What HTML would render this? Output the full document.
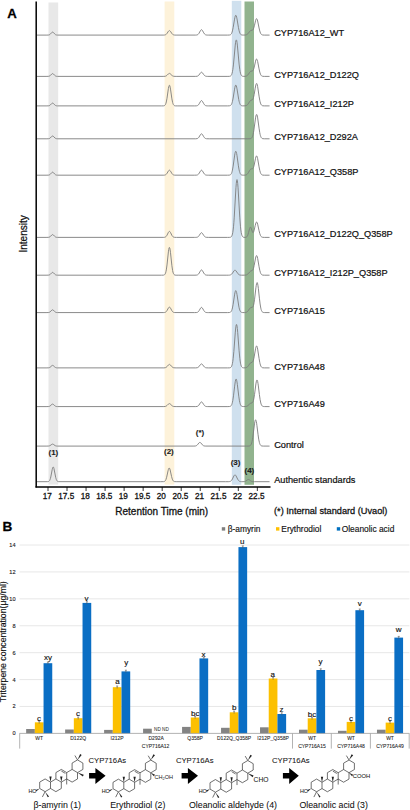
<!DOCTYPE html>
<html><head><meta charset="utf-8"><style>
html,body{margin:0;padding:0;background:#fff;}
body{width:410px;height:810px;overflow:hidden;}
svg{display:block;font-family:"Liberation Sans", sans-serif;}
</style></head><body>
<svg width="410" height="810" viewBox="0 0 410 810">
<rect width="410" height="810" fill="#fff"/>
<rect x="48.5" y="2.5" width="9.70" height="482.10" fill="#e8e8e8"/>
<rect x="164.6" y="1.5" width="9.70" height="483.10" fill="#fdf2da"/>
<rect x="231.8" y="0.8" width="9.50" height="484.00" fill="#cfe0ee"/>
<rect x="244.5" y="1.5" width="9.50" height="483.30" fill="#91b38e"/>
<polyline points="36.80,35.10 46.95,35.10 48.70,35.00 49.40,34.79 50.10,34.35 51.85,32.45 52.20,32.20 52.55,32.10 52.90,32.16 53.25,32.37 54.65,33.92 55.35,34.54 55.70,34.75 56.40,34.98 57.45,35.08 163.85,35.08 164.55,35.02 165.25,34.87 165.95,34.53 166.30,34.25 167.00,33.44 168.40,31.31 168.75,30.92 169.10,30.67 169.45,30.60 169.80,30.72 170.15,31.02 170.50,31.45 171.90,33.57 172.60,34.33 173.30,34.78 174.00,34.98 174.70,35.07 176.10,35.10 195.70,35.08 196.40,35.04 197.10,34.91 197.80,34.59 198.15,34.33 198.85,33.50 200.60,30.41 200.95,29.98 201.30,29.74 201.65,29.72 202.00,29.93 202.35,30.33 203.75,32.85 204.45,33.90 205.15,34.56 205.50,34.76 206.20,34.98 207.25,35.08 208.65,35.10 227.55,35.10 229.30,35.04 230.00,34.91 230.35,34.78 230.70,34.56 231.05,34.23 231.40,33.74 231.75,33.06 232.10,32.13 232.45,30.92 233.15,27.61 234.55,19.15 234.90,17.40 235.25,16.11 235.60,15.41 235.95,15.36 236.30,15.97 236.65,17.19 237.00,18.88 238.40,27.34 239.10,30.72 239.45,31.97 239.80,32.94 240.15,33.66 240.50,34.17 240.85,34.52 241.20,34.75 241.55,34.90 242.25,35.04 243.65,35.09 245.40,35.01 246.45,34.76 247.15,34.39 247.85,33.80 248.55,32.97 249.60,31.56 250.30,30.80 250.65,30.55 251.00,30.39 252.05,30.25 252.40,30.15 252.75,29.93 253.10,29.50 253.45,28.83 253.80,27.87 254.50,25.22 255.55,20.68 255.90,19.55 256.25,18.83 256.60,18.61 256.95,18.92 257.30,19.74 257.65,21.00 259.05,27.96 259.75,30.95 260.45,32.99 260.80,33.68 261.15,34.17 261.50,34.51 261.85,34.74 262.20,34.89 262.90,35.03 264.30,35.10 269.55,35.10" fill="none" stroke="#7d7d7d" stroke-width="0.9" stroke-linejoin="round"/>
<polyline points="36.80,76.40 46.95,76.40 48.70,76.30 49.40,76.11 50.10,75.70 51.85,73.93 52.20,73.70 52.55,73.60 52.90,73.66 53.25,73.85 54.65,75.30 55.35,75.88 55.70,76.07 56.40,76.29 57.45,76.38 163.85,76.39 165.25,76.25 165.95,76.02 166.30,75.83 167.00,75.29 168.40,73.88 168.75,73.61 169.10,73.45 169.45,73.40 169.80,73.48 170.15,73.68 171.90,75.38 172.60,75.89 173.30,76.18 174.00,76.32 176.10,76.40 195.70,76.39 197.10,76.25 197.80,76.01 198.15,75.80 198.85,75.15 200.60,72.75 200.95,72.41 201.30,72.23 201.65,72.22 202.00,72.38 202.35,72.69 203.75,74.65 204.45,75.47 205.15,75.98 205.50,76.14 206.20,76.31 207.25,76.39 209.00,76.40 227.90,76.40 229.65,76.32 230.35,76.13 230.70,75.93 231.05,75.60 231.40,75.09 231.75,74.33 232.10,73.23 232.45,71.72 232.80,69.71 233.15,67.16 233.50,64.08 235.25,45.07 235.60,42.29 235.95,40.51 236.30,39.90 236.65,40.51 237.00,42.29 237.35,45.07 239.10,64.08 239.80,69.71 240.15,71.72 240.50,73.23 240.85,74.33 241.20,75.09 241.55,75.60 241.90,75.93 242.25,76.13 242.60,76.25 243.30,76.36 245.05,76.34 245.75,76.24 246.45,76.02 247.15,75.62 247.85,74.95 248.55,74.04 249.60,72.47 250.30,71.63 250.65,71.35 251.00,71.18 252.40,70.98 252.75,70.77 253.10,70.35 253.45,69.66 253.80,68.68 254.50,65.93 255.55,61.17 255.90,59.99 256.25,59.23 256.60,59.00 256.95,59.33 257.30,60.20 257.65,61.53 259.05,68.87 259.75,72.02 260.45,74.18 260.80,74.90 261.15,75.42 261.50,75.78 261.85,76.02 262.20,76.18 262.90,76.33 264.30,76.40 269.55,76.40" fill="none" stroke="#7d7d7d" stroke-width="0.9" stroke-linejoin="round"/>
<polyline points="36.80,105.90 46.95,105.90 48.70,105.80 49.40,105.61 50.10,105.20 51.85,103.43 52.20,103.20 52.55,103.10 52.90,103.16 53.25,103.35 54.65,104.80 55.35,105.38 55.70,105.57 56.40,105.79 57.45,105.88 161.40,105.90 163.15,105.88 163.85,105.80 164.55,105.55 164.90,105.28 165.25,104.85 165.60,104.20 165.95,103.26 166.30,101.97 167.00,98.26 168.40,88.49 168.75,86.66 169.10,85.52 169.45,85.21 169.80,85.77 170.15,87.12 170.50,89.11 171.90,98.88 172.60,102.38 172.95,103.56 173.30,104.41 173.65,104.99 174.00,105.37 174.35,105.60 174.70,105.74 175.40,105.86 177.15,105.90 194.65,105.90 196.05,105.87 196.75,105.79 197.45,105.59 197.80,105.40 198.50,104.78 199.20,103.78 200.60,101.29 200.95,100.87 201.30,100.64 201.65,100.62 202.00,100.82 202.35,101.22 203.75,103.69 204.45,104.72 205.15,105.37 205.50,105.57 206.20,105.78 207.25,105.88 208.65,105.90 227.55,105.90 229.30,105.84 230.00,105.70 230.35,105.56 230.70,105.33 231.05,104.99 231.40,104.48 231.75,103.76 232.10,102.78 232.45,101.50 233.15,98.04 234.55,89.15 234.90,87.31 235.25,85.95 235.60,85.21 235.95,85.16 236.30,85.81 236.65,87.08 237.00,88.86 238.75,99.67 239.10,101.30 239.45,102.61 239.80,103.63 240.15,104.39 240.50,104.92 240.85,105.29 241.55,105.69 242.25,105.83 242.95,105.88 245.05,105.84 246.10,105.63 246.80,105.30 247.15,105.05 247.50,104.73 248.20,103.87 249.60,101.65 250.30,100.73 250.65,100.42 251.00,100.21 252.05,99.92 252.40,99.73 252.75,99.34 253.10,98.68 253.45,97.68 254.15,94.58 255.20,88.23 255.90,84.70 256.25,83.70 256.60,83.39 256.95,83.81 257.30,84.93 257.65,86.65 259.05,96.14 259.75,100.23 260.10,101.79 260.45,103.02 260.80,103.95 261.15,104.63 261.50,105.09 261.85,105.41 262.20,105.61 262.90,105.81 264.30,105.89 269.55,105.90" fill="none" stroke="#7d7d7d" stroke-width="0.9" stroke-linejoin="round"/>
<polyline points="36.80,138.80 46.95,138.80 48.70,138.70 49.40,138.51 50.10,138.10 51.85,136.33 52.20,136.10 52.55,136.00 52.90,136.06 53.25,136.25 55.00,138.02 55.70,138.47 56.40,138.69 57.80,138.79 195.70,138.79 197.10,138.62 197.80,138.33 198.15,138.08 198.85,137.32 200.60,134.45 200.95,134.05 201.30,133.83 201.65,133.82 202.00,134.01 202.35,134.39 203.75,136.72 204.45,137.69 204.80,138.04 205.50,138.49 206.55,138.74 209.70,138.80 247.85,138.80 249.95,138.75 250.65,138.62 251.00,138.48 251.35,138.26 251.70,137.92 252.05,137.41 252.40,136.68 252.75,135.67 253.10,134.33 253.45,132.63 253.80,130.56 255.55,117.86 255.90,116.00 256.25,114.81 256.60,114.40 256.95,114.81 257.30,116.00 257.65,117.86 259.05,128.17 259.75,132.63 260.10,134.33 260.45,135.67 260.80,136.68 261.15,137.41 261.50,137.92 261.85,138.26 262.20,138.48 262.90,138.70 264.30,138.79 269.55,138.80" fill="none" stroke="#7d7d7d" stroke-width="0.9" stroke-linejoin="round"/>
<polyline points="36.80,175.20 46.95,175.20 48.70,175.10 49.40,174.89 50.10,174.45 51.85,172.55 52.20,172.30 52.55,172.20 52.90,172.26 53.25,172.47 54.65,174.02 55.35,174.64 55.70,174.85 56.40,175.08 57.45,175.18 163.85,175.18 164.55,175.11 165.25,174.95 165.95,174.56 166.30,174.25 167.00,173.35 168.40,170.99 168.75,170.55 169.10,170.28 169.45,170.20 169.80,170.34 170.15,170.66 170.50,171.14 171.90,173.50 172.60,174.35 172.95,174.63 173.65,174.98 174.70,175.16 194.65,175.20 196.75,175.10 197.45,174.91 197.80,174.73 198.50,174.15 199.20,173.20 200.60,170.85 200.95,170.45 201.30,170.23 201.65,170.22 202.00,170.41 202.35,170.79 203.75,173.12 204.45,174.09 205.15,174.70 205.50,174.89 206.20,175.09 207.25,175.18 208.65,175.20 227.55,175.20 229.30,175.13 230.00,174.97 230.35,174.81 230.70,174.55 231.05,174.15 231.40,173.56 231.75,172.74 232.10,171.61 232.45,170.15 233.15,166.16 234.55,155.95 234.90,153.84 235.25,152.28 235.60,151.43 235.95,151.37 236.30,152.11 236.65,153.58 237.00,155.62 238.40,165.83 239.10,169.91 239.45,171.42 239.80,172.59 240.15,173.46 240.50,174.08 240.85,174.50 241.20,174.78 241.55,174.95 242.25,175.12 243.65,175.19 245.40,175.08 246.10,174.90 246.45,174.75 247.15,174.26 247.85,173.46 248.55,172.36 249.60,170.48 250.30,169.48 250.65,169.15 251.00,168.95 251.35,168.87 252.40,168.84 252.75,168.64 253.10,168.22 253.45,167.51 253.80,166.47 254.15,165.10 255.55,158.27 255.90,156.96 256.25,156.13 256.60,155.88 256.95,156.25 257.30,157.22 257.65,158.70 259.05,166.84 259.75,170.34 260.45,172.74 260.80,173.53 261.15,174.11 261.50,174.51 261.85,174.78 262.20,174.95 262.90,175.12 264.30,175.19 269.55,175.20" fill="none" stroke="#7d7d7d" stroke-width="0.9" stroke-linejoin="round"/>
<polyline points="36.80,237.40 46.95,237.40 48.70,237.30 49.40,237.11 50.10,236.70 51.85,234.93 52.20,234.70 52.55,234.60 52.90,234.66 53.25,234.85 54.65,236.30 55.35,236.88 55.70,237.07 56.40,237.29 57.45,237.38 163.85,237.37 164.55,237.30 165.25,237.10 165.95,236.63 166.30,236.26 167.00,235.19 168.40,232.35 168.75,231.82 169.10,231.49 169.45,231.40 169.80,231.56 170.15,231.96 170.50,232.53 171.90,235.37 172.60,236.38 172.95,236.72 173.65,237.14 174.70,237.35 176.45,237.40 194.30,237.40 195.70,237.39 196.75,237.31 197.45,237.12 197.80,236.96 198.50,236.41 199.20,235.52 200.60,233.31 200.95,232.94 201.30,232.73 201.65,232.72 202.00,232.90 202.35,233.25 203.75,235.44 204.45,236.36 205.15,236.93 205.50,237.10 206.20,237.30 208.30,237.40 227.55,237.40 229.30,237.38 230.35,237.27 231.05,236.97 231.40,236.65 231.75,236.13 232.10,235.32 232.45,234.11 232.80,232.38 233.15,229.98 233.50,226.81 233.85,222.78 234.20,217.89 235.95,187.79 236.30,183.39 236.65,180.57 237.00,179.60 237.35,180.57 237.70,183.39 238.05,187.79 239.80,217.89 240.50,226.81 240.85,229.98 241.20,232.38 241.55,234.11 241.90,235.32 242.25,236.13 242.60,236.65 242.95,236.97 243.30,237.16 244.00,237.33 245.05,237.38 245.75,237.32 246.45,237.08 246.80,236.83 247.15,236.42 247.50,235.83 247.85,235.00 248.55,232.63 249.60,228.53 249.95,227.62 250.30,227.16 250.65,227.23 251.00,227.78 252.40,231.87 252.75,232.43 253.10,232.56 253.45,232.21 253.80,231.42 254.15,230.25 255.20,225.60 255.90,223.00 256.25,222.25 256.60,222.00 256.95,222.26 257.30,223.01 257.65,224.18 259.05,230.69 259.75,233.50 260.45,235.42 260.80,236.06 261.15,236.52 261.50,236.85 261.85,237.06 262.20,237.20 262.90,237.34 264.30,237.40 269.55,237.40" fill="none" stroke="#7d7d7d" stroke-width="0.9" stroke-linejoin="round"/>
<polyline points="36.80,275.20 46.95,275.20 48.70,275.10 49.40,274.91 50.10,274.50 51.85,272.73 52.20,272.50 52.55,272.40 52.90,272.46 53.25,272.65 54.65,274.10 55.35,274.68 55.70,274.87 56.40,275.09 57.45,275.18 161.40,275.20 163.15,275.17 163.85,275.07 164.20,274.94 164.55,274.73 164.90,274.36 165.25,273.79 165.60,272.91 165.95,271.65 166.30,269.93 167.00,264.94 168.40,251.82 168.75,249.36 169.10,247.83 169.45,247.41 169.80,248.16 170.15,249.98 170.50,252.65 171.90,265.77 172.60,270.47 172.95,272.06 173.30,273.20 173.65,273.98 174.00,274.49 174.35,274.80 175.05,275.09 176.10,275.19 178.20,275.20 195.00,275.20 196.75,275.09 197.45,274.89 197.80,274.70 198.50,274.08 199.20,273.08 200.60,270.59 200.95,270.17 201.30,269.94 201.65,269.92 202.00,270.12 202.35,270.52 203.75,272.99 204.45,274.02 204.80,274.39 205.50,274.87 205.85,275.00 206.55,275.14 208.30,275.20 226.85,275.20 228.60,275.18 229.65,275.11 230.70,274.81 231.40,274.37 231.75,274.04 232.45,273.17 233.85,271.04 234.20,270.62 234.55,270.34 234.90,270.21 235.25,270.24 235.60,270.44 235.95,270.79 238.05,273.82 238.75,274.49 239.45,274.88 240.15,275.07 241.55,275.19 244.70,275.17 246.10,275.00 246.80,274.76 247.15,274.57 247.85,274.04 248.55,273.31 249.60,272.05 250.30,271.36 251.00,270.95 252.05,270.60 252.40,270.37 252.75,269.96 253.10,269.30 253.45,268.35 253.80,267.08 254.15,265.51 255.55,258.07 255.90,256.69 256.25,255.80 256.60,255.52 256.95,255.88 257.30,256.86 257.65,258.36 259.05,266.66 259.75,270.24 260.45,272.68 260.80,273.50 261.15,274.09 261.50,274.50 261.85,274.77 262.20,274.95 262.90,275.12 264.30,275.19 269.55,275.20" fill="none" stroke="#7d7d7d" stroke-width="0.9" stroke-linejoin="round"/>
<polyline points="36.80,312.60 46.95,312.60 48.70,312.50 49.40,312.31 50.10,311.90 51.85,310.13 52.20,309.90 52.55,309.80 52.90,309.86 53.25,310.05 54.65,311.50 55.35,312.08 55.70,312.27 56.40,312.49 57.45,312.58 163.85,312.57 164.55,312.51 165.25,312.32 165.95,311.90 166.30,311.56 167.00,310.57 168.40,307.97 168.75,307.49 169.10,307.18 169.45,307.10 169.80,307.25 170.15,307.61 170.50,308.14 171.90,310.73 172.60,311.66 172.95,311.98 173.65,312.36 174.70,312.56 194.65,312.60 196.75,312.50 197.45,312.30 197.80,312.11 198.50,311.50 199.20,310.52 200.60,308.08 200.95,307.67 201.30,307.44 201.65,307.42 202.00,307.62 202.35,308.01 203.75,310.43 204.45,311.45 205.15,312.08 205.50,312.27 206.20,312.49 207.25,312.58 208.65,312.60 227.55,312.60 229.30,312.54 230.00,312.39 230.35,312.24 230.70,312.00 231.05,311.63 231.40,311.09 231.75,310.33 232.10,309.30 232.45,307.95 233.15,304.28 234.55,294.88 234.90,292.93 235.25,291.50 235.60,290.72 235.95,290.67 236.30,291.35 236.65,292.69 237.00,294.58 238.75,306.01 239.10,307.73 239.45,309.12 239.80,310.20 240.15,311.00 240.50,311.57 240.85,311.96 241.20,312.21 241.55,312.37 242.25,312.53 242.95,312.58 244.35,312.58 245.40,312.50 246.45,312.22 247.15,311.82 247.50,311.52 248.20,310.72 249.60,308.67 250.30,307.85 250.65,307.58 251.00,307.43 252.05,307.37 252.40,307.28 252.75,307.01 253.10,306.45 253.45,305.50 253.80,304.08 254.15,302.17 254.50,299.76 255.90,287.78 256.25,285.30 256.60,283.52 256.95,282.63 257.30,282.73 257.65,283.81 258.00,285.77 258.35,288.43 259.40,298.18 260.10,303.97 260.80,308.10 261.15,309.51 261.50,310.55 261.85,311.28 262.20,311.78 262.55,312.11 263.25,312.44 264.65,312.59 269.55,312.60" fill="none" stroke="#7d7d7d" stroke-width="0.9" stroke-linejoin="round"/>
<polyline points="36.80,367.90 46.95,367.90 48.70,367.81 49.40,367.64 50.10,367.28 51.85,365.69 52.20,365.49 52.55,365.40 52.90,365.45 53.25,365.62 54.65,366.92 55.35,367.43 55.70,367.60 56.40,367.80 57.45,367.89 163.85,367.88 165.25,367.72 165.95,367.45 166.30,367.24 167.00,366.61 168.40,364.96 168.75,364.65 169.10,364.45 169.45,364.40 169.80,364.50 170.15,364.72 170.50,365.06 171.90,366.71 172.60,367.30 173.30,367.65 174.00,367.81 176.10,367.90 195.70,367.89 197.10,367.76 197.80,367.53 198.15,367.33 198.85,366.71 200.60,364.42 200.95,364.10 201.30,363.93 201.65,363.92 202.00,364.07 202.35,364.37 203.75,366.23 204.45,367.01 205.15,367.50 205.50,367.65 206.20,367.81 208.30,367.90 227.55,367.90 229.30,367.87 230.00,367.77 230.70,367.49 231.05,367.19 231.40,366.71 231.75,365.99 232.10,364.92 232.45,363.41 232.80,361.37 233.15,358.71 233.85,351.45 235.25,332.86 235.60,329.02 235.95,326.18 236.30,324.64 236.65,324.54 237.00,325.88 237.35,328.54 237.70,332.27 239.10,350.84 239.80,358.27 240.15,361.03 240.50,363.16 240.85,364.74 241.20,365.86 241.55,366.63 241.90,367.13 242.25,367.45 242.60,367.65 242.95,367.76 243.65,367.86 245.40,367.80 246.10,367.65 246.80,367.35 247.50,366.82 247.85,366.45 248.55,365.54 249.60,363.96 250.30,363.11 251.00,362.62 252.05,362.30 252.40,362.08 252.75,361.68 253.10,361.00 253.45,360.00 253.80,358.63 254.15,356.92 255.55,348.73 255.90,347.19 256.25,346.21 256.60,345.90 256.95,346.31 257.30,347.40 257.65,349.08 259.05,358.36 259.75,362.36 260.10,363.89 260.45,365.09 260.80,366.00 261.15,366.66 261.50,367.11 261.85,367.42 262.20,367.62 262.90,367.81 264.30,367.89 269.55,367.90" fill="none" stroke="#7d7d7d" stroke-width="0.9" stroke-linejoin="round"/>
<polyline points="36.80,406.60 46.95,406.60 48.70,406.51 49.40,406.34 50.10,405.98 51.85,404.39 52.20,404.19 52.55,404.10 52.90,404.15 53.25,404.32 54.65,405.62 55.35,406.13 55.70,406.30 56.40,406.50 57.45,406.59 163.85,406.59 165.25,406.45 165.95,406.22 166.30,406.03 167.00,405.49 168.40,404.08 168.75,403.81 169.10,403.65 169.45,403.60 169.80,403.68 170.15,403.88 171.90,405.58 172.60,406.09 173.30,406.38 174.00,406.52 176.10,406.60 195.70,406.59 197.10,406.44 197.80,406.16 198.15,405.93 198.85,405.21 200.60,402.51 200.95,402.14 201.30,401.93 201.65,401.92 202.00,402.10 202.35,402.45 203.75,404.64 204.45,405.56 205.15,406.13 205.50,406.30 206.20,406.50 207.25,406.58 209.00,406.60 227.90,406.60 229.65,406.51 230.35,406.32 230.70,406.12 231.05,405.80 231.40,405.31 231.75,404.60 232.10,403.60 232.45,402.26 232.80,400.51 233.50,395.82 234.55,386.88 235.25,381.72 235.60,380.04 235.95,379.19 236.30,379.25 236.65,380.23 237.00,382.02 237.35,384.45 238.75,396.20 239.45,400.79 239.80,402.47 240.15,403.76 240.50,404.72 240.85,405.39 241.20,405.85 241.55,406.15 242.25,406.45 243.65,406.59 245.40,406.53 246.10,406.44 246.80,406.24 247.85,405.65 249.60,404.00 250.30,403.44 251.00,403.12 252.05,402.83 252.40,402.60 252.75,402.17 253.10,401.46 253.45,400.40 253.80,398.92 254.50,394.69 255.90,383.94 256.25,381.89 256.60,380.52 256.95,379.97 257.30,380.31 257.65,381.50 258.00,383.43 258.35,385.93 259.40,394.62 260.10,399.57 260.80,403.00 261.15,404.15 261.50,404.99 261.85,405.58 262.20,405.97 262.55,406.23 263.25,406.48 264.65,406.59 269.55,406.60" fill="none" stroke="#7d7d7d" stroke-width="0.9" stroke-linejoin="round"/>
<polyline points="36.80,446.10 46.95,446.10 48.70,446.03 49.40,445.89 50.10,445.60 51.85,444.34 52.20,444.17 52.55,444.10 52.90,444.14 53.25,444.28 55.00,445.54 55.70,445.86 56.40,446.02 57.80,446.10 193.95,446.09 195.35,446.00 196.05,445.82 196.40,445.66 197.10,445.15 197.45,444.79 198.85,443.04 199.20,442.70 199.55,442.48 199.90,442.40 200.25,442.48 200.60,442.70 200.95,443.04 202.35,444.79 203.05,445.44 203.40,445.66 204.10,445.93 205.15,446.07 246.45,446.10 248.90,446.05 249.60,445.92 249.95,445.78 250.30,445.56 250.65,445.22 251.00,444.70 251.35,443.94 251.70,442.90 252.05,441.51 252.40,439.73 252.75,437.56 254.50,423.86 254.85,421.77 255.20,420.38 255.55,419.81 255.90,420.13 256.25,421.29 256.60,423.20 256.95,425.67 258.00,434.26 258.70,439.15 259.40,442.54 259.75,443.68 260.10,444.51 260.45,445.09 260.80,445.48 261.15,445.73 261.85,445.98 263.25,446.09 269.55,446.10" fill="none" stroke="#7d7d7d" stroke-width="0.9" stroke-linejoin="round"/>
<polyline points="36.80,481.70 47.30,481.68 48.35,481.55 48.70,481.42 49.05,481.19 49.40,480.82 49.75,480.26 50.10,479.45 50.45,478.34 50.80,476.93 52.20,469.61 52.55,468.16 52.90,467.26 53.25,467.01 53.60,467.45 53.95,468.53 55.70,477.36 56.05,478.69 56.40,479.71 56.75,480.45 57.10,480.95 57.45,481.27 58.15,481.58 58.85,481.67 160.70,481.70 163.50,481.65 164.20,481.52 164.90,481.14 165.25,480.78 165.60,480.24 165.95,479.50 166.65,477.25 168.05,470.80 168.40,469.44 168.75,468.47 169.10,468.02 169.45,468.15 169.80,468.83 170.15,469.98 171.55,476.43 172.25,478.96 172.60,479.85 172.95,480.50 173.30,480.95 173.65,481.25 174.00,481.45 174.70,481.63 176.80,481.70 225.45,481.70 228.25,481.69 229.30,481.62 230.35,481.36 231.05,480.92 231.40,480.57 231.75,480.13 232.45,478.94 233.85,476.04 234.20,475.48 234.55,475.09 234.90,474.91 235.25,474.96 235.60,475.23 235.95,475.70 237.70,479.22 238.40,480.33 238.75,480.73 239.45,481.26 239.80,481.42 240.50,481.60 241.55,481.68 242.95,481.69 244.00,481.65 244.70,481.55 245.40,481.32 245.75,481.14 247.50,479.82 247.85,479.63 248.20,479.52 248.55,479.51 248.90,479.60 249.25,479.79 250.65,480.88 251.35,481.30 252.05,481.54 252.75,481.65 254.50,481.70 269.55,481.70" fill="none" stroke="#7d7d7d" stroke-width="0.9" stroke-linejoin="round"/>
<line x1="36.2" y1="1.5" x2="36.2" y2="487.6" stroke="#000" stroke-width="1.5"/>
<line x1="35.5" y1="486.9" x2="270.5" y2="486.9" stroke="#000" stroke-width="1.5"/>
<line x1="48.00" y1="487" x2="48.00" y2="491" stroke="#000" stroke-width="0.8"/>
<text x="47.20" y="499.34" font-size="8.2" text-anchor="middle" font-weight="normal" fill="#111" stroke="#111" stroke-width="0.28" >17</text>
<line x1="67.03" y1="487" x2="67.03" y2="491" stroke="#000" stroke-width="0.8"/>
<text x="66.23" y="499.34" font-size="8.2" text-anchor="middle" font-weight="normal" fill="#111" stroke="#111" stroke-width="0.28" >17.5</text>
<line x1="86.06" y1="487" x2="86.06" y2="491" stroke="#000" stroke-width="0.8"/>
<text x="85.26" y="499.34" font-size="8.2" text-anchor="middle" font-weight="normal" fill="#111" stroke="#111" stroke-width="0.28" >18</text>
<line x1="105.09" y1="487" x2="105.09" y2="491" stroke="#000" stroke-width="0.8"/>
<text x="104.29" y="499.34" font-size="8.2" text-anchor="middle" font-weight="normal" fill="#111" stroke="#111" stroke-width="0.28" >18.5</text>
<line x1="124.12" y1="487" x2="124.12" y2="491" stroke="#000" stroke-width="0.8"/>
<text x="123.32" y="499.34" font-size="8.2" text-anchor="middle" font-weight="normal" fill="#111" stroke="#111" stroke-width="0.28" >19</text>
<line x1="143.15" y1="487" x2="143.15" y2="491" stroke="#000" stroke-width="0.8"/>
<text x="142.35" y="499.34" font-size="8.2" text-anchor="middle" font-weight="normal" fill="#111" stroke="#111" stroke-width="0.28" >19.5</text>
<line x1="162.18" y1="487" x2="162.18" y2="491" stroke="#000" stroke-width="0.8"/>
<text x="161.38" y="499.34" font-size="8.2" text-anchor="middle" font-weight="normal" fill="#111" stroke="#111" stroke-width="0.28" >20</text>
<line x1="181.21" y1="487" x2="181.21" y2="491" stroke="#000" stroke-width="0.8"/>
<text x="180.41" y="499.34" font-size="8.2" text-anchor="middle" font-weight="normal" fill="#111" stroke="#111" stroke-width="0.28" >20.5</text>
<line x1="200.24" y1="487" x2="200.24" y2="491" stroke="#000" stroke-width="0.8"/>
<text x="199.44" y="499.34" font-size="8.2" text-anchor="middle" font-weight="normal" fill="#111" stroke="#111" stroke-width="0.28" >21</text>
<line x1="219.27" y1="487" x2="219.27" y2="491" stroke="#000" stroke-width="0.8"/>
<text x="218.47" y="499.34" font-size="8.2" text-anchor="middle" font-weight="normal" fill="#111" stroke="#111" stroke-width="0.28" >21.5</text>
<line x1="238.30" y1="487" x2="238.30" y2="491" stroke="#000" stroke-width="0.8"/>
<text x="237.50" y="499.34" font-size="8.2" text-anchor="middle" font-weight="normal" fill="#111" stroke="#111" stroke-width="0.28" >22</text>
<line x1="257.33" y1="487" x2="257.33" y2="491" stroke="#000" stroke-width="0.8"/>
<text x="256.53" y="499.34" font-size="8.2" text-anchor="middle" font-weight="normal" fill="#111" stroke="#111" stroke-width="0.28" >22.5</text>
<text x="53.40" y="454.86" font-size="8.0" text-anchor="middle" font-weight="bold" fill="#1a1a1a" stroke="#1a1a1a" stroke-width="0.1" >(1)</text>
<text x="168.90" y="454.26" font-size="8.0" text-anchor="middle" font-weight="bold" fill="#1a1a1a" stroke="#1a1a1a" stroke-width="0.1" >(2)</text>
<text x="235.60" y="464.86" font-size="8.0" text-anchor="middle" font-weight="bold" fill="#1a1a1a" stroke="#1a1a1a" stroke-width="0.1" >(3)</text>
<text x="249.40" y="473.26" font-size="8.0" text-anchor="middle" font-weight="bold" fill="#1a1a1a" stroke="#1a1a1a" stroke-width="0.1" >(4)</text>
<text x="200.00" y="435.26" font-size="8.0" text-anchor="middle" font-weight="bold" fill="#1a1a1a" stroke="#1a1a1a" stroke-width="0.1" >(*)</text>
<text x="274.20" y="36.29" font-size="9.2" text-anchor="start" font-weight="normal" fill="#111" stroke="#111" stroke-width="0.22" >CYP716A12_WT</text>
<text x="274.20" y="78.29" font-size="9.2" text-anchor="start" font-weight="normal" fill="#111" stroke="#111" stroke-width="0.22" >CYP716A12_D122Q</text>
<text x="274.20" y="106.69" font-size="9.2" text-anchor="start" font-weight="normal" fill="#111" stroke="#111" stroke-width="0.22" >CYP716A12_I212P</text>
<text x="274.20" y="140.09" font-size="9.2" text-anchor="start" font-weight="normal" fill="#111" stroke="#111" stroke-width="0.22" >CYP716A12_D292A</text>
<text x="274.20" y="175.19" font-size="9.2" text-anchor="start" font-weight="normal" fill="#111" stroke="#111" stroke-width="0.22" >CYP716A12_Q358P</text>
<text x="274.20" y="237.09" font-size="9.2" text-anchor="start" font-weight="normal" fill="#111" stroke="#111" stroke-width="0.22" >CYP716A12_D122Q_Q358P</text>
<text x="274.20" y="275.89" font-size="9.2" text-anchor="start" font-weight="normal" fill="#111" stroke="#111" stroke-width="0.22" >CYP716A12_I212P_Q358P</text>
<text x="274.20" y="313.69" font-size="9.2" text-anchor="start" font-weight="normal" fill="#111" stroke="#111" stroke-width="0.22" >CYP716A15</text>
<text x="274.20" y="369.69" font-size="9.2" text-anchor="start" font-weight="normal" fill="#111" stroke="#111" stroke-width="0.22" >CYP716A48</text>
<text x="274.20" y="407.09" font-size="9.2" text-anchor="start" font-weight="normal" fill="#111" stroke="#111" stroke-width="0.22" >CYP716A49</text>
<text x="274.20" y="447.59" font-size="9.2" text-anchor="start" font-weight="normal" fill="#111" stroke="#111" stroke-width="0.22" >Control</text>
<text x="274.20" y="482.89" font-size="9.2" text-anchor="start" font-weight="normal" fill="#111" stroke="#111" stroke-width="0.22" >Authentic standards</text>
<text x="274.00" y="514.49" font-size="9.2" text-anchor="start" font-weight="normal" fill="#111" stroke="#111" stroke-width="0.28" >(*) Internal standard (Uvaol)</text>
<text x="161.70" y="515.28" font-size="10" text-anchor="middle" font-weight="normal" fill="#111" stroke="#111" stroke-width="0.28" >Retention Time (min)</text>
<text x="0" y="0" font-size="10" text-anchor="middle" fill="#111" stroke="#111" stroke-width="0.25" transform="translate(26.58,233.9) rotate(-90)">Intensity</text>
<text x="7.20" y="18.03" font-size="13.2" text-anchor="start" font-weight="bold" fill="#000" stroke="#000" stroke-width="0.28" >A</text>
<text x="2.60" y="530.87" font-size="13.6" text-anchor="start" font-weight="bold" fill="#000" stroke="#000" stroke-width="0.28" >B</text>
<line x1="19.5" y1="706.49" x2="409.4" y2="706.49" stroke="#e2e2e2" stroke-width="0.8"/>
<line x1="19.5" y1="679.57" x2="409.4" y2="679.57" stroke="#e2e2e2" stroke-width="0.8"/>
<line x1="19.5" y1="652.66" x2="409.4" y2="652.66" stroke="#e2e2e2" stroke-width="0.8"/>
<line x1="19.5" y1="625.74" x2="409.4" y2="625.74" stroke="#e2e2e2" stroke-width="0.8"/>
<line x1="19.5" y1="598.83" x2="409.4" y2="598.83" stroke="#e2e2e2" stroke-width="0.8"/>
<line x1="19.5" y1="571.92" x2="409.4" y2="571.92" stroke="#e2e2e2" stroke-width="0.8"/>
<line x1="19.5" y1="545.00" x2="409.4" y2="545.00" stroke="#e2e2e2" stroke-width="0.8"/>
<text x="15.60" y="735.40" font-size="5.6" text-anchor="end" font-weight="normal" fill="#222" stroke="#222" stroke-width="0.12" >0</text>
<text x="15.60" y="708.49" font-size="5.6" text-anchor="end" font-weight="normal" fill="#222" stroke="#222" stroke-width="0.12" >2</text>
<text x="15.60" y="681.58" font-size="5.6" text-anchor="end" font-weight="normal" fill="#222" stroke="#222" stroke-width="0.12" >4</text>
<text x="15.60" y="654.66" font-size="5.6" text-anchor="end" font-weight="normal" fill="#222" stroke="#222" stroke-width="0.12" >6</text>
<text x="15.60" y="627.75" font-size="5.6" text-anchor="end" font-weight="normal" fill="#222" stroke="#222" stroke-width="0.12" >8</text>
<text x="15.60" y="600.83" font-size="5.6" text-anchor="end" font-weight="normal" fill="#222" stroke="#222" stroke-width="0.12" >10</text>
<text x="15.60" y="573.92" font-size="5.6" text-anchor="end" font-weight="normal" fill="#222" stroke="#222" stroke-width="0.12" >12</text>
<text x="15.60" y="547.01" font-size="5.6" text-anchor="end" font-weight="normal" fill="#222" stroke="#222" stroke-width="0.12" >14</text>
<text x="0" y="0" font-size="8.7" text-anchor="middle" fill="#111" stroke="#111" stroke-width="0.15" transform="translate(6.0,641.8) rotate(-90)">Triterpene concentration(μg/ml)</text>
<rect x="221.8" y="527.2" width="3.4" height="3.4" fill="#7f7f7f"/>
<text x="227.70" y="531.61" font-size="8.4" text-anchor="start" font-weight="normal" fill="#111" stroke="#111" stroke-width="0.14" >β-amyrin</text>
<rect x="276.0" y="527.2" width="3.4" height="3.4" fill="#ffc000"/>
<text x="281.30" y="531.61" font-size="8.4" text-anchor="start" font-weight="normal" fill="#111" stroke="#111" stroke-width="0.14" >Erythrodiol</text>
<rect x="336.8" y="527.2" width="3.4" height="3.4" fill="#0070c0"/>
<text x="341.70" y="531.61" font-size="8.4" text-anchor="start" font-weight="normal" fill="#111" stroke="#111" stroke-width="0.14" >Oleanolic acid</text>
<rect x="26.15" y="729.00" width="8.7" height="4.40" fill="#838383"/>
<rect x="34.85" y="722.30" width="8.7" height="11.10" fill="#fcc000"/>
<rect x="43.55" y="663.20" width="8.7" height="70.20" fill="#0a6ec4"/>
<line x1="39.20" y1="721.10" x2="39.20" y2="723.50" stroke="#555" stroke-width="0.6"/>
<line x1="38.20" y1="721.10" x2="40.20" y2="721.10" stroke="#555" stroke-width="0.6"/>
<line x1="47.90" y1="662.00" x2="47.90" y2="664.40" stroke="#555" stroke-width="0.6"/>
<line x1="46.90" y1="662.00" x2="48.90" y2="662.00" stroke="#555" stroke-width="0.6"/>
<text x="39.00" y="721.18" font-size="8.0" text-anchor="middle" fill="#111" stroke="#111" stroke-width="0.15">c</text>
<text x="48.10" y="659.54" font-size="8.0" text-anchor="middle" fill="#111" stroke="#111" stroke-width="0.15">xy</text>
<text x="39.20" y="740.09" font-size="5.0" text-anchor="middle" font-weight="normal" fill="#222" stroke="#222" stroke-width="0.08" >WT</text>
<rect x="65.13" y="729.50" width="8.7" height="3.90" fill="#838383"/>
<rect x="73.83" y="718.20" width="8.7" height="15.20" fill="#fcc000"/>
<rect x="82.53" y="602.90" width="8.7" height="130.50" fill="#0a6ec4"/>
<line x1="78.18" y1="717.00" x2="78.18" y2="719.40" stroke="#555" stroke-width="0.6"/>
<line x1="77.18" y1="717.00" x2="79.18" y2="717.00" stroke="#555" stroke-width="0.6"/>
<line x1="86.88" y1="601.70" x2="86.88" y2="604.10" stroke="#555" stroke-width="0.6"/>
<line x1="85.88" y1="601.70" x2="87.88" y2="601.70" stroke="#555" stroke-width="0.6"/>
<text x="78.00" y="715.58" font-size="8.0" text-anchor="middle" fill="#111" stroke="#111" stroke-width="0.15">c</text>
<text x="86.60" y="600.88" font-size="8.0" text-anchor="middle" fill="#111" stroke="#111" stroke-width="0.15">v</text>
<text x="78.18" y="740.09" font-size="5.0" text-anchor="middle" font-weight="normal" fill="#222" stroke="#222" stroke-width="0.08" >D122Q</text>
<rect x="104.11" y="729.90" width="8.7" height="3.50" fill="#838383"/>
<rect x="112.81" y="687.20" width="8.7" height="46.20" fill="#fcc000"/>
<rect x="121.51" y="671.40" width="8.7" height="62.00" fill="#0a6ec4"/>
<line x1="117.16" y1="686.00" x2="117.16" y2="688.40" stroke="#555" stroke-width="0.6"/>
<line x1="116.16" y1="686.00" x2="118.16" y2="686.00" stroke="#555" stroke-width="0.6"/>
<line x1="125.86" y1="670.20" x2="125.86" y2="672.60" stroke="#555" stroke-width="0.6"/>
<line x1="124.86" y1="670.20" x2="126.86" y2="670.20" stroke="#555" stroke-width="0.6"/>
<text x="117.60" y="683.68" font-size="8.0" text-anchor="middle" fill="#111" stroke="#111" stroke-width="0.15">a</text>
<text x="126.20" y="665.34" font-size="8.0" text-anchor="middle" fill="#111" stroke="#111" stroke-width="0.15">y</text>
<text x="117.16" y="740.09" font-size="5.0" text-anchor="middle" font-weight="normal" fill="#222" stroke="#222" stroke-width="0.08" >I212P</text>
<rect x="143.09" y="728.70" width="8.7" height="4.70" fill="#838383"/>
<text x="154.00" y="731.48" font-size="4.7" text-anchor="start" font-weight="normal" fill="#333" stroke="#333" stroke-width="0.05" >ND ND</text>
<text x="156.14" y="740.09" font-size="5.0" text-anchor="middle" font-weight="normal" fill="#222" stroke="#222" stroke-width="0.08" >D292A</text>
<rect x="182.07" y="726.90" width="8.7" height="6.50" fill="#838383"/>
<rect x="190.77" y="717.50" width="8.7" height="15.90" fill="#fcc000"/>
<rect x="199.47" y="658.40" width="8.7" height="75.00" fill="#0a6ec4"/>
<line x1="195.12" y1="716.30" x2="195.12" y2="718.70" stroke="#555" stroke-width="0.6"/>
<line x1="194.12" y1="716.30" x2="196.12" y2="716.30" stroke="#555" stroke-width="0.6"/>
<line x1="203.82" y1="657.20" x2="203.82" y2="659.60" stroke="#555" stroke-width="0.6"/>
<line x1="202.82" y1="657.20" x2="204.82" y2="657.20" stroke="#555" stroke-width="0.6"/>
<text x="195.20" y="716.00" font-size="8.0" text-anchor="middle" fill="#111" stroke="#111" stroke-width="0.15">bc</text>
<text x="203.60" y="657.28" font-size="8.0" text-anchor="middle" fill="#111" stroke="#111" stroke-width="0.15">x</text>
<text x="195.12" y="740.09" font-size="5.0" text-anchor="middle" font-weight="normal" fill="#222" stroke="#222" stroke-width="0.08" >Q358P</text>
<rect x="221.05" y="727.80" width="8.7" height="5.60" fill="#838383"/>
<rect x="229.75" y="712.30" width="8.7" height="21.10" fill="#fcc000"/>
<rect x="238.45" y="547.10" width="8.7" height="186.30" fill="#0a6ec4"/>
<line x1="234.10" y1="711.10" x2="234.10" y2="713.50" stroke="#555" stroke-width="0.6"/>
<line x1="233.10" y1="711.10" x2="235.10" y2="711.10" stroke="#555" stroke-width="0.6"/>
<line x1="242.80" y1="545.90" x2="242.80" y2="548.30" stroke="#555" stroke-width="0.6"/>
<line x1="241.80" y1="545.90" x2="243.80" y2="545.90" stroke="#555" stroke-width="0.6"/>
<text x="234.20" y="710.18" font-size="8.0" text-anchor="middle" fill="#111" stroke="#111" stroke-width="0.15">b</text>
<text x="242.30" y="544.38" font-size="8.0" text-anchor="middle" fill="#111" stroke="#111" stroke-width="0.15">u</text>
<text x="234.10" y="740.09" font-size="5.0" text-anchor="middle" font-weight="normal" fill="#222" stroke="#222" stroke-width="0.08" >D122Q_Q358P</text>
<rect x="260.03" y="727.30" width="8.7" height="6.10" fill="#838383"/>
<rect x="268.73" y="678.50" width="8.7" height="54.90" fill="#fcc000"/>
<rect x="277.43" y="714.00" width="8.7" height="19.40" fill="#0a6ec4"/>
<line x1="273.08" y1="677.30" x2="273.08" y2="679.70" stroke="#555" stroke-width="0.6"/>
<line x1="272.08" y1="677.30" x2="274.08" y2="677.30" stroke="#555" stroke-width="0.6"/>
<line x1="281.78" y1="712.80" x2="281.78" y2="715.20" stroke="#555" stroke-width="0.6"/>
<line x1="280.78" y1="712.80" x2="282.78" y2="712.80" stroke="#555" stroke-width="0.6"/>
<text x="272.70" y="676.58" font-size="8.0" text-anchor="middle" fill="#111" stroke="#111" stroke-width="0.15">a</text>
<text x="281.40" y="712.38" font-size="8.0" text-anchor="middle" fill="#111" stroke="#111" stroke-width="0.15">z</text>
<text x="273.08" y="740.09" font-size="5.0" text-anchor="middle" font-weight="normal" fill="#222" stroke="#222" stroke-width="0.08" >I212P_Q358P</text>
<rect x="299.01" y="729.70" width="8.7" height="3.70" fill="#838383"/>
<rect x="307.71" y="718.30" width="8.7" height="15.10" fill="#fcc000"/>
<rect x="316.41" y="670.00" width="8.7" height="63.40" fill="#0a6ec4"/>
<line x1="312.06" y1="717.10" x2="312.06" y2="719.50" stroke="#555" stroke-width="0.6"/>
<line x1="311.06" y1="717.10" x2="313.06" y2="717.10" stroke="#555" stroke-width="0.6"/>
<line x1="320.76" y1="668.80" x2="320.76" y2="671.20" stroke="#555" stroke-width="0.6"/>
<line x1="319.76" y1="668.80" x2="321.76" y2="668.80" stroke="#555" stroke-width="0.6"/>
<text x="312.00" y="716.60" font-size="8.0" text-anchor="middle" fill="#111" stroke="#111" stroke-width="0.15">bc</text>
<text x="320.60" y="663.84" font-size="8.0" text-anchor="middle" fill="#111" stroke="#111" stroke-width="0.15">y</text>
<text x="312.06" y="740.09" font-size="5.0" text-anchor="middle" font-weight="normal" fill="#222" stroke="#222" stroke-width="0.08" >WT</text>
<rect x="337.99" y="730.80" width="8.7" height="2.60" fill="#838383"/>
<rect x="346.69" y="721.90" width="8.7" height="11.50" fill="#fcc000"/>
<rect x="355.39" y="610.20" width="8.7" height="123.20" fill="#0a6ec4"/>
<line x1="351.04" y1="720.70" x2="351.04" y2="723.10" stroke="#555" stroke-width="0.6"/>
<line x1="350.04" y1="720.70" x2="352.04" y2="720.70" stroke="#555" stroke-width="0.6"/>
<line x1="359.74" y1="609.00" x2="359.74" y2="611.40" stroke="#555" stroke-width="0.6"/>
<line x1="358.74" y1="609.00" x2="360.74" y2="609.00" stroke="#555" stroke-width="0.6"/>
<text x="351.00" y="720.88" font-size="8.0" text-anchor="middle" fill="#111" stroke="#111" stroke-width="0.15">c</text>
<text x="359.70" y="606.18" font-size="8.0" text-anchor="middle" fill="#111" stroke="#111" stroke-width="0.15">v</text>
<text x="351.04" y="740.09" font-size="5.0" text-anchor="middle" font-weight="normal" fill="#222" stroke="#222" stroke-width="0.08" >WT</text>
<rect x="376.97" y="729.70" width="8.7" height="3.70" fill="#838383"/>
<rect x="385.67" y="722.60" width="8.7" height="10.80" fill="#fcc000"/>
<rect x="394.37" y="637.60" width="8.7" height="95.80" fill="#0a6ec4"/>
<line x1="390.02" y1="721.40" x2="390.02" y2="723.80" stroke="#555" stroke-width="0.6"/>
<line x1="389.02" y1="721.40" x2="391.02" y2="721.40" stroke="#555" stroke-width="0.6"/>
<line x1="398.72" y1="636.40" x2="398.72" y2="638.80" stroke="#555" stroke-width="0.6"/>
<line x1="397.72" y1="636.40" x2="399.72" y2="636.40" stroke="#555" stroke-width="0.6"/>
<text x="390.00" y="720.88" font-size="8.0" text-anchor="middle" fill="#111" stroke="#111" stroke-width="0.15">c</text>
<text x="398.70" y="631.58" font-size="8.0" text-anchor="middle" fill="#111" stroke="#111" stroke-width="0.15">w</text>
<text x="390.02" y="740.09" font-size="5.0" text-anchor="middle" font-weight="normal" fill="#222" stroke="#222" stroke-width="0.08" >WT</text>
<line x1="19.5" y1="733.4" x2="409.4" y2="733.4" stroke="#a0a0a0" stroke-width="0.8"/>
<line x1="19.7" y1="733.4" x2="19.7" y2="748.6" stroke="#a0a0a0" stroke-width="0.8"/>
<line x1="292.5" y1="733.4" x2="292.5" y2="748.6" stroke="#a0a0a0" stroke-width="0.8"/>
<line x1="331.3" y1="733.4" x2="331.3" y2="748.6" stroke="#a0a0a0" stroke-width="0.8"/>
<line x1="370.4" y1="733.4" x2="370.4" y2="748.6" stroke="#a0a0a0" stroke-width="0.8"/>
<line x1="409.2" y1="733.4" x2="409.2" y2="748.6" stroke="#a0a0a0" stroke-width="0.8"/>
<text x="155.60" y="747.79" font-size="5.0" text-anchor="middle" font-weight="normal" fill="#222" stroke="#222" stroke-width="0.08" >CYP716A12</text>
<text x="311.95" y="747.79" font-size="5.0" text-anchor="middle" font-weight="normal" fill="#222" stroke="#222" stroke-width="0.08" >CYP716A15</text>
<text x="350.95" y="747.79" font-size="5.0" text-anchor="middle" font-weight="normal" fill="#222" stroke="#222" stroke-width="0.08" >CYP716A48</text>
<text x="389.95" y="747.79" font-size="5.0" text-anchor="middle" font-weight="normal" fill="#222" stroke="#222" stroke-width="0.08" >CYP716A49</text>
<path d="M77.50 759.90L82.90 763.08M39.70 782.12L45.10 778.95M72.10 769.42L77.50 772.60M77.50 772.60L77.50 778.95M50.50 782.12L55.90 778.95M77.50 772.60L82.90 769.42M45.10 778.95L50.50 782.12M61.30 782.12L61.30 788.47M72.10 763.08L72.10 769.42M66.70 778.95L72.10 782.12M72.10 782.12L77.50 778.95M82.90 763.08L82.90 769.42M66.70 772.60L72.10 769.42M66.70 772.60L66.70 778.95M50.50 782.12L50.50 788.47M45.10 791.65L50.50 788.47M55.90 778.95L61.30 782.12M55.90 772.60L55.90 778.95M55.90 772.60L61.30 769.42M50.50 788.47L55.90 791.65M61.30 782.12L66.70 778.95M39.70 782.12L39.70 788.47M72.10 763.08L77.50 759.90M61.30 769.42L66.70 772.60M39.70 788.47L45.10 791.65M55.90 791.65L61.30 788.47" stroke="#222" stroke-width="0.65" fill="none"/>
<line x1="61.30" y1="771.01" x2="65.35" y2="773.39" stroke="#222" stroke-width="0.65"/>
<path d="M50.50 782.12L51.65 776.62L49.35 776.62Z" fill="#222"/>
<path d="M61.30 782.12L62.45 776.62L60.15 776.62Z" fill="#222"/>
<line x1="66.70" y1="778.95" x2="66.70" y2="784.45" stroke="#222" stroke-width="0.65"/>
<line x1="45.10" y1="791.65" x2="42.40" y2="796.95" stroke="#222" stroke-width="0.65"/>
<path d="M45.10 791.65L47.76 797.35L49.04 796.55Z" fill="#222"/>
<path d="M39.70 788.47L35.68 789.99L36.52 791.36Z" fill="#222"/>
<text x="28.40" y="792.71" font-size="5.4" text-anchor="start" font-weight="normal" fill="#222" stroke="#222" stroke-width="0.08" >HO</text>
<line x1="77.50" y1="759.90" x2="74.90" y2="755.50" stroke="#222" stroke-width="0.65"/>
<path d="M77.50 759.90L81.70 755.11L80.10 754.09Z" fill="#222"/>
<path d="M77.50 772.60L82.86 776.44L83.74 774.76Z" fill="#222"/>
<path d="M118.40 779.15L123.80 782.33M129.20 791.85L134.60 788.67M123.80 788.67L129.20 791.85M129.20 772.80L129.20 779.15M145.40 769.62L150.80 772.80M113.00 782.33L118.40 779.15M145.40 763.28L145.40 769.62M145.40 782.33L150.80 779.15M140.00 779.15L145.40 782.33M123.80 782.33L123.80 788.67M118.40 791.85L123.80 788.67M140.00 772.80L145.40 769.62M134.60 782.33L140.00 779.15M145.40 763.28L150.80 760.10M140.00 772.80L140.00 779.15M113.00 782.33L113.00 788.67M150.80 772.80L150.80 779.15M134.60 769.62L140.00 772.80M129.20 772.80L134.60 769.62M156.20 763.28L156.20 769.62M150.80 772.80L156.20 769.62M134.60 782.33L134.60 788.67M129.20 779.15L134.60 782.33M123.80 782.33L129.20 779.15M113.00 788.67L118.40 791.85M150.80 760.10L156.20 763.28" stroke="#222" stroke-width="0.65" fill="none"/>
<line x1="134.60" y1="771.21" x2="138.65" y2="773.59" stroke="#222" stroke-width="0.65"/>
<path d="M123.80 782.33L124.95 776.83L122.65 776.83Z" fill="#222"/>
<path d="M134.60 782.33L135.75 776.83L133.45 776.83Z" fill="#222"/>
<line x1="140.00" y1="779.15" x2="140.00" y2="784.65" stroke="#222" stroke-width="0.65"/>
<line x1="118.40" y1="791.85" x2="115.70" y2="797.15" stroke="#222" stroke-width="0.65"/>
<path d="M118.40 791.85L121.06 797.55L122.34 796.75Z" fill="#222"/>
<path d="M113.00 788.67L108.98 790.19L109.82 791.56Z" fill="#222"/>
<text x="101.70" y="792.91" font-size="5.4" text-anchor="start" font-weight="normal" fill="#222" stroke="#222" stroke-width="0.08" >HO</text>
<line x1="150.80" y1="760.10" x2="148.20" y2="755.70" stroke="#222" stroke-width="0.65"/>
<path d="M150.80 760.10L155.00 755.31L153.40 754.29Z" fill="#222"/>
<path d="M150.80 772.80L153.82 776.35L154.98 774.85Z" fill="#222"/>
<text x="154.40" y="778.80" font-size="5.6" fill="#222">CH<tspan font-size="4" dy="1.2">2</tspan><tspan dy="-1.2">OH</tspan></text>
<path d="M220.80 782.73L226.20 779.55M242.40 763.68L247.80 760.50M247.80 773.20L253.20 770.02M231.60 782.73L237.00 779.55M226.20 779.55L231.60 782.73M226.20 792.25L231.60 789.07M215.40 779.55L220.80 782.73M242.40 770.02L247.80 773.20M242.40 782.73L247.80 779.55M237.00 773.20L242.40 770.02M226.20 773.20L226.20 779.55M220.80 789.07L226.20 792.25M253.20 763.68L253.20 770.02M237.00 779.55L242.40 782.73M210.00 789.07L215.40 792.25M215.40 792.25L220.80 789.07M231.60 782.73L231.60 789.07M242.40 763.68L242.40 770.02M247.80 760.50L253.20 763.68M226.20 773.20L231.60 770.02M247.80 773.20L247.80 779.55M220.80 782.73L220.80 789.07M231.60 770.02L237.00 773.20M237.00 773.20L237.00 779.55M210.00 782.73L215.40 779.55M210.00 782.73L210.00 789.07" stroke="#222" stroke-width="0.65" fill="none"/>
<line x1="231.60" y1="771.61" x2="235.65" y2="773.99" stroke="#222" stroke-width="0.65"/>
<path d="M220.80 782.73L221.95 777.23L219.65 777.23Z" fill="#222"/>
<path d="M231.60 782.73L232.75 777.23L230.45 777.23Z" fill="#222"/>
<line x1="237.00" y1="779.55" x2="237.00" y2="785.05" stroke="#222" stroke-width="0.65"/>
<line x1="215.40" y1="792.25" x2="212.70" y2="797.55" stroke="#222" stroke-width="0.65"/>
<path d="M215.40 792.25L218.06 797.95L219.34 797.15Z" fill="#222"/>
<path d="M210.00 789.07L205.98 790.59L206.82 791.96Z" fill="#222"/>
<text x="198.70" y="793.31" font-size="5.4" text-anchor="start" font-weight="normal" fill="#222" stroke="#222" stroke-width="0.08" >HO</text>
<line x1="247.80" y1="760.50" x2="245.20" y2="756.10" stroke="#222" stroke-width="0.65"/>
<path d="M247.80 760.50L252.00 755.71L250.40 754.69Z" fill="#222"/>
<path d="M247.80 773.20L252.61 777.21L253.59 775.59Z" fill="#222"/>
<text x="253.60" y="782.10" font-size="6.7" text-anchor="start" font-weight="normal" fill="#222" stroke="#222" stroke-width="0.08" >CHO</text>
<path d="M343.60 763.18L343.60 769.52M311.20 782.23L311.20 788.57M343.60 763.18L349.00 760.00M316.60 779.05L322.00 782.23M349.00 772.70L349.00 779.05M332.80 782.23L338.20 779.05M338.20 772.70L343.60 769.52M311.20 782.23L316.60 779.05M332.80 769.52L338.20 772.70M349.00 760.00L354.40 763.18M311.20 788.57L316.60 791.75M327.40 791.75L332.80 788.57M349.00 772.70L354.40 769.52M322.00 788.57L327.40 791.75M322.00 782.23L327.40 779.05M338.20 772.70L338.20 779.05M338.20 779.05L343.60 782.23M322.00 782.23L322.00 788.57M343.60 782.23L349.00 779.05M327.40 772.70L332.80 769.52M332.80 782.23L332.80 788.57M343.60 769.52L349.00 772.70M354.40 763.18L354.40 769.52M316.60 791.75L322.00 788.57M327.40 772.70L327.40 779.05M327.40 779.05L332.80 782.23" stroke="#222" stroke-width="0.65" fill="none"/>
<line x1="332.80" y1="771.11" x2="336.85" y2="773.49" stroke="#222" stroke-width="0.65"/>
<path d="M322.00 782.23L323.15 776.73L320.85 776.73Z" fill="#222"/>
<path d="M332.80 782.23L333.95 776.73L331.65 776.73Z" fill="#222"/>
<line x1="338.20" y1="779.05" x2="338.20" y2="784.55" stroke="#222" stroke-width="0.65"/>
<line x1="316.60" y1="791.75" x2="313.90" y2="797.05" stroke="#222" stroke-width="0.65"/>
<path d="M316.60 791.75L319.26 797.45L320.54 796.65Z" fill="#222"/>
<path d="M311.20 788.57L307.18 790.09L308.02 791.46Z" fill="#222"/>
<text x="299.90" y="792.81" font-size="5.4" text-anchor="start" font-weight="normal" fill="#222" stroke="#222" stroke-width="0.08" >HO</text>
<line x1="349.00" y1="760.00" x2="346.40" y2="755.60" stroke="#222" stroke-width="0.65"/>
<path d="M349.00 760.00L353.20 755.21L351.60 754.19Z" fill="#222"/>
<path d="M349.00 772.70L352.02 776.25L353.18 774.75Z" fill="#222"/>
<text x="352.80" y="778.48" font-size="5.8" text-anchor="start" font-weight="normal" fill="#222" stroke="#222" stroke-width="0.08" >COOH</text>
<path d="M89.10 773L95.40 773L95.40 768.1L105.60 775.8L95.40 784L95.40 778.5L89.10 778.5Z" fill="#000"/>
<path d="M181.60 773L187.90 773L187.90 768.1L198.00 775.8L187.90 784L187.90 778.5L181.60 778.5Z" fill="#000"/>
<path d="M282.90 773L289.20 773L289.20 768.1L298.80 775.8L289.20 784L289.20 778.5L282.90 778.5Z" fill="#000"/>
<text x="88.50" y="762.66" font-size="7.7" text-anchor="start" font-weight="normal" fill="#111" stroke="#111" stroke-width="0.05" >CYP716As</text>
<text x="175.90" y="762.66" font-size="7.7" text-anchor="start" font-weight="normal" fill="#111" stroke="#111" stroke-width="0.05" >CYP716As</text>
<text x="272.00" y="762.66" font-size="7.7" text-anchor="start" font-weight="normal" fill="#111" stroke="#111" stroke-width="0.05" >CYP716As</text>
<text x="33.40" y="808.15" font-size="8.8" text-anchor="start" font-weight="normal" fill="#111" stroke="#111" stroke-width="0.06" >β-amyrin (1)</text>
<text x="110.20" y="808.15" font-size="8.8" text-anchor="start" font-weight="normal" fill="#111" stroke="#111" stroke-width="0.06" >Erythrodiol (2)</text>
<text x="189.00" y="808.15" font-size="8.8" text-anchor="start" font-weight="normal" fill="#111" stroke="#111" stroke-width="0.06" >Oleanolic aldehyde (4)</text>
<text x="299.40" y="808.15" font-size="8.8" text-anchor="start" font-weight="normal" fill="#111" stroke="#111" stroke-width="0.06" >Oleanolic acid (3)</text>
</svg></body></html>
